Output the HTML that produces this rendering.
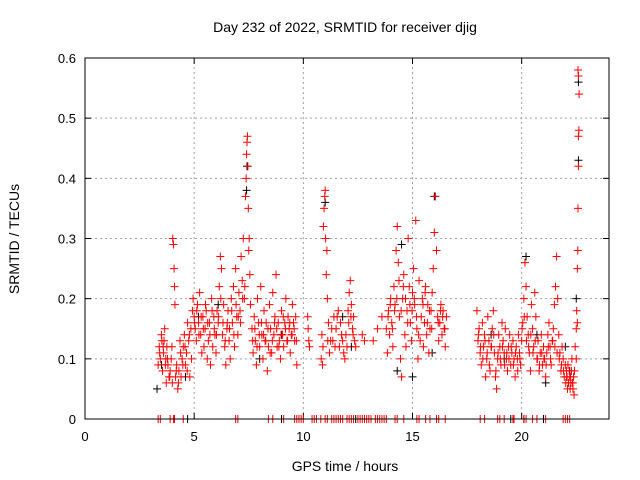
<!DOCTYPE html>
<html><head><meta charset="utf-8"><style>
body{margin:0;background:#fff;}
svg{display:block;font-family:"Liberation Sans",sans-serif;}
</style></head><body>
<svg id="chart" width="640" height="480" xmlns="http://www.w3.org/2000/svg">
<rect width="640" height="480" fill="#fff"/>
<text x="345" y="32" text-anchor="middle" font-size="14">Day 232 of 2022, SRMTID for receiver djig</text>
<text x="345" y="471" text-anchor="middle" font-size="14">GPS time / hours</text>
<text transform="translate(19,239) rotate(-90)" text-anchor="middle" font-size="14">SRMTID / TECUs</text>
<g id="grid"></g>
<g id="ticks"></g>
<g id="black"></g>
<g id="red"></g>
<rect x="85" y="58" width="524" height="361" fill="none" stroke="#000" stroke-width="1"/>
</svg>
<script>
const xTicks=[0,5,10,15,20];
const yTicks=[0,0.1,0.2,0.3,0.4,0.5,0.6];
const yTickLabels=["0","0.1","0.2","0.3","0.4","0.5","0.6"];
const redT=[3.35,3.4,3.45,3.5,3.55,3.6,3.62,3.65,3.7,3.72,3.75,3.8,3.85,3.9,3.95,4.0,4.02,4.05,4.08,4.1,4.12,4.15,4.2,4.25,4.3,4.35,4.4,4.45,4.5,4.55,4.6,4.65,4.7,4.75,4.8,4.85,4.88,
4.92,4.95,5.0,5.05,5.1,5.15,5.2,5.25,5.3,5.35,5.4,5.45,5.5,5.55,5.6,5.65,5.7,5.75,5.8,5.85,5.9,5.95,
6.0,6.05,6.1,6.15,6.2,6.25,6.3,6.35,6.4,6.45,6.5,6.55,6.6,6.65,6.7,6.75,6.8,6.85,6.9,6.95,
7.0,7.05,7.1,7.15,7.2,7.25,7.3,7.35,7.38,7.4,7.42,7.44,7.46,7.48,7.5,7.52,7.55,7.58,
7.65,7.7,7.75,7.8,7.85,7.9,7.95,8.0,8.05,8.1,8.15,8.2,8.25,8.3,8.35,8.4,8.45,8.5,8.55,8.6,8.65,8.7,8.75,8.8,8.85,8.9,8.95,9.0,9.05,9.1,9.15,9.2,9.25,9.3,9.35,9.4,9.45,9.5,9.55,9.6,9.65,9.7,
10.2,10.22,10.25,10.28,
10.82,10.85,10.88,10.9,10.92,10.95,10.98,11.0,11.02,11.05,11.08,11.1,11.12,11.15,
11.2,11.3,11.35,11.4,11.45,11.5,11.6,11.7,11.8,11.85,11.9,11.95,12.0,12.05,12.1,12.15,12.2,12.25,12.3,12.35,12.4,
12.7,12.8,13.2,13.4,13.6,
13.8,13.85,13.9,13.95,14.0,14.05,14.1,14.15,14.2,14.25,14.3,14.35,14.4,14.45,14.5,14.55,14.6,14.65,14.7,14.75,14.8,14.85,14.9,14.95,15.0,15.05,15.1,15.15,15.2,15.25,15.3,15.35,
15.4,15.45,15.5,15.55,15.6,15.65,15.7,15.75,15.8,15.85,15.9,15.95,16.0,16.05,16.1,16.15,16.2,16.25,16.3,16.35,16.4,16.45,16.5,16.55,
17.95,18.0,18.05,18.1,18.15,18.2,18.25,18.3,18.35,18.4,18.45,18.5,18.55,18.6,18.65,18.7,18.75,18.8,18.85,18.9,18.95,19.0,19.05,19.1,19.15,19.2,19.25,19.3,19.35,19.4,19.45,19.5,19.55,19.6,19.65,19.7,19.75,19.8,19.85,19.9,19.95,
20.0,20.05,20.1,20.15,20.2,20.25,20.3,20.35,20.4,20.45,20.5,20.55,20.6,20.65,20.7,20.75,20.8,20.85,20.9,20.95,21.0,21.05,21.1,21.15,21.2,21.25,21.3,21.35,21.4,21.45,21.5,21.55,21.6,21.65,21.7,21.75,21.8,21.85,21.9,21.95,22.0,
22.02,22.05,22.08,22.1,22.12,22.15,22.18,22.2,22.22,22.25,22.28,22.3,22.32,22.35,22.38,22.4,22.45,22.5,22.52,22.55,22.57,22.58,22.6,22.6,22.62,22.63,22.6,22.58,22.55,22.5,
3.42,3.52,3.58,3.68,3.78,3.88,3.98,4.18,4.28,4.38,4.48,4.58,4.68,4.78,
5.02,5.12,5.22,5.32,5.42,5.52,5.62,5.72,5.82,5.92,6.02,6.12,6.22,6.32,6.42,6.52,6.62,6.72,6.82,6.92,
7.02,7.12,7.22,7.32,7.68,7.78,7.88,7.98,8.08,8.18,8.28,8.38,8.48,8.58,8.68,8.78,8.88,8.98,9.08,9.18,9.28,9.38,9.48,9.58,9.68,
11.25,11.55,11.65,11.75,12.08,12.18,12.28,
13.88,13.98,14.08,14.18,14.28,14.38,14.48,14.58,14.68,14.78,14.88,14.98,15.08,15.18,15.28,15.48,15.58,15.68,15.78,15.88,16.18,16.28,16.38,16.48,
18.02,18.12,18.22,18.32,18.42,18.52,18.62,18.72,18.82,18.92,19.02,19.12,19.22,19.32,19.42,19.52,19.62,19.72,19.82,19.92,
20.02,20.12,20.22,20.32,20.42,20.52,20.62,20.72,20.82,20.92,21.02,21.12,21.22,21.32,21.42,21.52,21.62,21.72,21.82,21.92,
22.06,22.14,22.24,22.34,22.42];
const redV=[.09,.12,.1,.14,.08,.11,.13,.15,.1,.06,.12,.09,.07,.08,.1,.06,.3,.29,.25,.22,.19,.07,.09,.05,.08,.13,.07,.1,.12,.14,.09,.11,.16,.13,.07,.15,.1,
.18,.2,.17,.15,.13,.19,.16,.21,.14,.11,.17,.12,.15,.18,.1,.13,.16,.09,.2,.12,.17,.14,
.11,.18,.16,.22,.27,.25,.14,.19,.12,.09,.15,.18,.13,.1,.2,.16,.22,.12,.25,.17,
.14,.21,.18,.27,.23,.3,.2,.37,.4,.44,.46,.47,.42,.35,.28,.3,.24,.19,
.15,.11,.17,.13,.09,.2,.16,.12,.22,.14,.1,.18,.13,.16,.08,.12,.19,.15,.11,.21,.14,.17,.24,.12,.16,.13,.1,.18,.14,.12,.16,.2,.13,.17,.15,.11,.14,.19,.16,.13,.17,.09,
.17,.15,.13,.12,
.1,.14,.09,.12,.32,.35,.37,.38,.3,.24,.28,.2,.13,.16,
.11,.15,.13,.17,.12,.15,.18,.16,.13,.11,.1,.14,.12,.18,.21,.23,.19,.15,.17,.13,.12,
.14,.13,.13,.15,.17,
.15,.11,.18,.14,.2,.16,.12,.22,.19,.28,.32,.26,.17,.1,.07,.2,.24,.14,.12,.18,.3,.22,.16,.13,.21,.25,.19,.33,.15,.1,.23,.13,
.17,.2,.12,.16,.22,.14,.19,.11,.15,.18,.21,.25,.31,.37,.28,.17,.13,.16,.19,.14,.18,.15,.12,.17,
.18,.13,.15,.11,.09,.16,.12,.14,.07,.1,.17,.13,.08,.12,.15,.18,.11,.07,.05,.1,.14,.12,.09,.16,.13,.11,.15,.1,.08,.12,.14,.09,.11,.13,.1,.07,.12,.1,.14,.11,.09,
.13,.16,.2,.26,.22,.17,.14,.11,.08,.19,.15,.12,.21,.17,.1,.13,.08,.11,.14,.09,.12,.1,.07,.11,.14,.16,.12,.09,.13,.15,.19,.22,.27,.2,.14,.11,.08,.12,.1,.07,.09,
.06,.08,.07,.05,.09,.06,.08,.07,.05,.06,.08,.1,.06,.05,.07,.04,.12,.15,.18,.25,.28,.35,.42,.47,.48,.54,.57,.58,.16,.1,
.11,.13,.12,.09,.1,.07,.12,.08,.06,.11,.09,.12,.08,.14,
.16,.18,.14,.17,.15,.19,.16,.14,.18,.15,.14,.17,.2,.16,.13,.16,.15,.18,.14,.19,
.17,.16,.2,.22,.13,.15,.12,.14,.16,.14,.13,.15,.11,.13,.16,.15,.12,.14,.17,.15,.13,.16,.14,.15,.13,
.13,.17,.12,.14,.16,.17,.14,
.17,.19,.15,.18,.2,.23,.18,.22,.2,.16,.19,.18,.2,.17,.14,.19,.21,.16,.18,.15,.16,.18,.17,.15,
.14,.12,.1,.13,.11,.09,.12,.14,.08,.11,.1,.12,.09,.11,.1,.12,.09,.11,.08,.1,
.15,.17,.13,.12,.14,.11,.13,.1,.09,.11,.1,.09,.12,.1,.13,.12,.11,.1,.09,.08,
.07,.06,.07,.06,.08];
const redZeroT=[3.35,3.45,3.9,4.05,4.1,4.5,6.9,7.0,8.4,8.6,9.1,9.6,9.7,9.8,9.9,10.0,10.4,10.5,10.6,10.8,11.0,11.1,11.3,11.4,11.5,11.6,11.7,11.8,12.0,12.1,12.2,12.3,12.5,12.6,12.7,12.8,12.9,13.0,13.1,13.3,13.4,13.5,13.6,13.7,13.8,14.2,14.3,14.6,15.2,15.3,15.6,15.8,16.1,16.2,16.5,18.1,18.3,18.9,19.0,19.2,19.6,19.65,20.1,20.2,20.5,20.7,21.1,21.9,22.0,22.1,22.2];
const blackT=[3.3,3.5,4.6,5.2,6.1,7.4,7.42,8.0,9.0,11.0,11.8,12.2,14.3,14.5,15.0,15.9,16.0,18.6,19.2,20.2,20.7,21.1,22.0,22.2,22.5,22.6,22.6];
const blackV=[.05,.09,.07,.17,.19,.38,.42,.1,.14,.36,.17,.12,.08,.29,.07,.11,.37,.14,.1,.27,.14,.06,.12,.08,.2,.43,.56];
const blackZeroT=[4.7,9.0,12.4,19.5,20.1,21.0];

const X0=85,X1=609,Y0=419,Y1=58,XMAX=24,YMAX=0.6;
function xs(t){return X0+(X1-X0)*t/XMAX;}
function ys(v){return Y0-(Y0-Y1)*v/YMAX;}
const NS="http://www.w3.org/2000/svg";
function mk(tag,attrs,parent){const e=document.createElementNS(NS,tag);for(const k in attrs)e.setAttribute(k,attrs[k]);parent.appendChild(e);return e;}
const grid=document.getElementById('grid'),ticks=document.getElementById('ticks');
xTicks.forEach(t=>{
  const x=xs(t);
  if(t>0){const g=mk('line',{x1:x,y1:Y0,x2:x,y2:Y1,stroke:'#a0a0a0','stroke-dasharray':'2,3'},grid);
  
  }
  mk('line',{x1:x,y1:Y0,x2:x,y2:Y0-6,stroke:'#000'},ticks);
  mk('line',{x1:x,y1:Y1,x2:x,y2:Y1+6,stroke:'#000'},ticks);
  const l=mk('text',{x:x,y:Y0+22,'text-anchor':'middle','font-size':'13'},ticks);
  l.textContent=t;
  
  
});
yTicks.forEach((v,i)=>{
  const y=ys(v);
  if(v>0&&v<YMAX){const g=mk('line',{x1:X0,y1:y,x2:X1,y2:y,stroke:'#a0a0a0','stroke-dasharray':'2,3'},grid);
  
  }
  mk('line',{x1:X0,y1:y,x2:X0+6,y2:y,stroke:'#000'},ticks);
  mk('line',{x1:X1,y1:y,x2:X1-6,y2:y,stroke:'#000'},ticks);
  const l=mk('text',{x:X0-9,y:y+5,'text-anchor':'end','font-size':'13'},ticks);
  l.textContent=yTickLabels[i];
  
  
});
function plus(g,t,v,col){
  const x=xs(t),y=ys(v);
  const p=mk('path',{d:`M${x-4} ${y}H${x+4}M${x} ${y-4}V${y+4}`,stroke:col,'stroke-width':'1',fill:'none'},g);
  
  
}
const bg=document.getElementById('black'),rg=document.getElementById('red');
blackT.forEach((t,i)=>plus(bg,t,blackV[i],'#000'));
blackZeroT.forEach(t=>plus(bg,t,0,'#000'));
redT.forEach((t,i)=>plus(rg,t,redV[i],'#f00'));
redZeroT.forEach(t=>plus(rg,t,0,'#f00'));
</script>
</body></html>
